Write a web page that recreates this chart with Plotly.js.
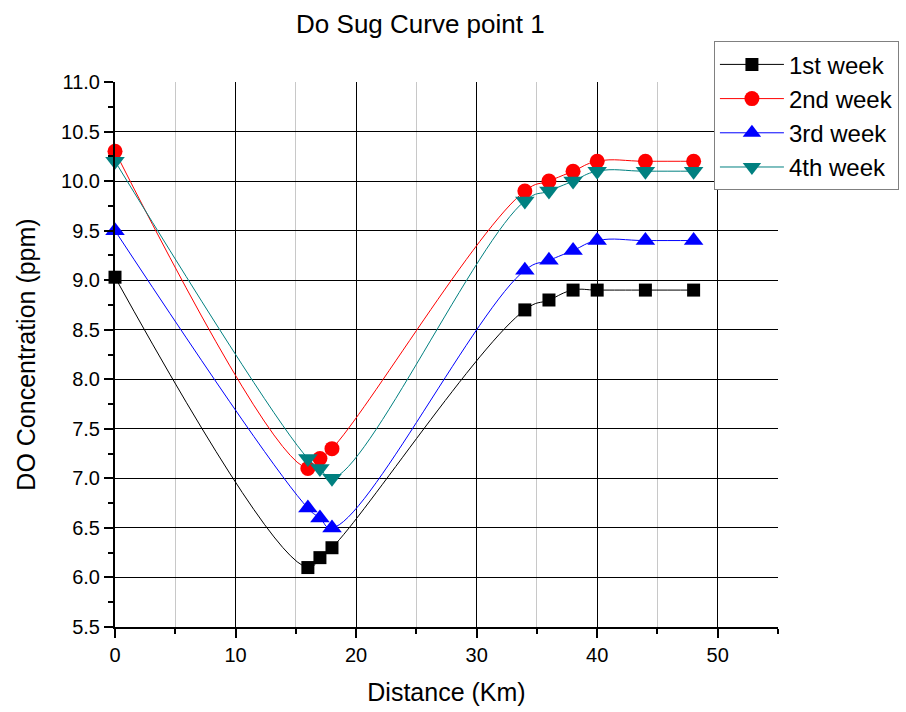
<!DOCTYPE html>
<html>
<head>
<meta charset="utf-8">
<script src="https://cdn.plot.ly/plotly-3.0.1.min.js"></script>
<style>html,body{margin:0;padding:0;background:#fff;}#chart{width:906px;height:712px;}</style>
</head>
<body>
<div id="chart"></div>
<script>
const distance = [0, 16, 17, 18, 34, 36, 38, 40, 44, 48];
const week1 = [9.03, 6.1, 6.2, 6.3, 8.7, 8.8, 8.9, 8.9, 8.9, 8.9];
const week2 = [10.3, 7.1, 7.2, 7.3, 9.9, 10.0, 10.1, 10.2, 10.2, 10.2];
const week3 = [9.5, 6.7, 6.6, 6.5, 9.1, 9.2, 9.3, 9.4, 9.4, 9.4];
const week4 = [10.2, 7.2, 7.1, 7.0, 9.8, 9.9, 10.0, 10.1, 10.1, 10.1];
const seriesNames = ['1st week', '2nd week', '3rd week', '4th week'];

const FONT = 'Liberation Sans, Arial, sans-serif';
function tr(y, name, color, symbol, size) {
  return {
    x: distance, y: y, name: name, type: 'scatter', mode: 'lines+markers',
    line: {color: color, width: 1, shape: 'spline', smoothing: 1.3},
    marker: {color: color, symbol: symbol, size: size},
    cliponaxis: false
  };
}
const data = [
  tr(week1, seriesNames[0], '#000000', 'square', 13),
  tr(week2, seriesNames[1], '#ff0000', 'circle', 15),
  tr(week3, seriesNames[2], '#0000ff', 'triangle-up', 17),
  tr(week4, seriesNames[3], '#008080', 'triangle-down', 17)
];
const layout = {
  width: 906, height: 712,
  margin: {l: 115, r: 128, t: 82, b: 85, autoexpand: false},
  paper_bgcolor: '#ffffff', plot_bgcolor: '#ffffff',
  font: {family: FONT, color: '#000', size: 20},
  title: {text: 'Do Sug Curve point 1', x: 0.464, xanchor: 'center', y: 0.966, yanchor: 'middle', font: {size: 26, family: FONT}},
  showlegend: true,
  legend: {xref: 'container', yref: 'container', x: 0.788, xanchor: 'left', y: 0.942, yanchor: 'top',
           bordercolor: '#808080', borderwidth: 1,
           bgcolor: '#ffffff', font: {size: 24, family: FONT}, tracegroupgap: 0, itemwidth: 64},
  xaxis: {
    range: [0, 55], tickmode: 'linear', tick0: 0, dtick: 10,
    showline: true, linecolor: '#000', linewidth: 2,
    ticks: 'outside', ticklen: 9, tickwidth: 2, tickcolor: '#000',
    showgrid: true, gridcolor: '#000', gridwidth: 1, zeroline: false,
    tickfont: {size: 20, family: FONT},
    minor: {dtick: 5, ticklen: 5, tickwidth: 2, tickcolor: '#000', showgrid: true, gridcolor: '#c8c8c8', gridwidth: 1},
    title: {text: 'Distance (Km)', font: {size: 25, family: FONT}, standoff: 18}
  },
  yaxis: {
    range: [5.5, 11.0], tickmode: 'linear', tick0: 5.5, dtick: 0.5, tickformat: '.1f',
    showline: true, linecolor: '#000', linewidth: 2,
    ticks: 'outside', ticklen: 9, tickwidth: 2, tickcolor: '#000',
    showgrid: true, gridcolor: '#000', gridwidth: 1, zeroline: false,
    tickfont: {size: 20, family: FONT},
    minor: {dtick: 0.25, ticklen: 5, tickwidth: 2, tickcolor: '#000', showgrid: false},
    title: {text: 'DO Concentration (ppm)', font: {size: 25, family: FONT}, standoff: 18}
  }
};
Plotly.newPlot('chart', data, layout, {displayModeBar: false, staticPlot: true});
</script>
</body>
</html>
